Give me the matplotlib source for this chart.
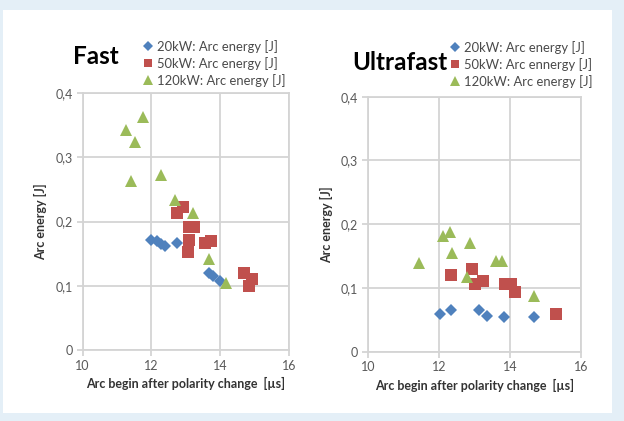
import matplotlib
matplotlib.use("Agg")
import matplotlib.pyplot as plt
from matplotlib.patches import Rectangle
from matplotlib.ticker import FuncFormatter

# ---- data: Fast ----
fast_20_x = [11.98, 12.17, 12.28, 12.38, 12.73, 13.66, 13.78, 13.99]
fast_20_y = [0.171, 0.170, 0.165, 0.162, 0.166, 0.120, 0.115, 0.107]
fast_50_x = [12.75, 12.92, 13.08, 13.24, 13.10, 13.07, 13.56, 13.73, 14.69, 14.91, 14.84]
fast_50_y = [0.214, 0.222, 0.191, 0.191, 0.171, 0.153, 0.167, 0.170, 0.120, 0.110, 0.099]
fast_120_x = [11.25, 11.76, 11.52, 11.40, 12.27, 12.68, 13.21, 13.67, 14.16]
fast_120_y = [0.343, 0.362, 0.324, 0.263, 0.272, 0.233, 0.213, 0.142, 0.104]

# ---- data: Ultrafast ----
ultra_20_x = [12.03, 12.34, 13.13, 13.34, 13.84, 14.68]
ultra_20_y = [0.059, 0.066, 0.066, 0.056, 0.055, 0.054]
ultra_50_x = [12.34, 12.94, 13.00, 13.25, 13.85, 14.03, 14.15, 15.29]
ultra_50_y = [0.120, 0.129, 0.106, 0.111, 0.106, 0.106, 0.094, 0.059]
ultra_120_x = [12.10, 12.31, 12.87, 12.36, 11.44, 13.61, 13.78, 12.78, 14.68]
ultra_120_y = [0.181, 0.188, 0.171, 0.155, 0.139, 0.143, 0.143, 0.117, 0.087]

titles = ["Fast", "Ultrafast"]
labels_fast = ["20kW: Arc energy [J]", "50kW: Arc energy [J]", "120kW: Arc energy [J]"]
labels_ultra = ["20kW: Arc energy [J]", "50kW: Arc ennergy [J]", "120kW: Arc energy [J]"]
x_label = "Arc begin after polarity change  [µs]"
y_label = "Arc energy [J]"
x_ticks = [10, 12, 14, 16]
y_ticks = [0, 0.1, 0.2, 0.3, 0.4]

C_BLUE = "#4F81BD"
C_RED = "#C0504D"
C_GREEN = "#9BBB59"

plt.rcParams['font.family'] = ['Lato', 'DejaVu Sans']

W, H = 624, 421
fig = plt.figure(figsize=(W / 100, H / 100), dpi=100)
fig.patch.set_facecolor("#e4eff7")
bg = Rectangle((3 / W, (H - 413) / H), (612 - 3) / W, (413 - 10) / H,
               transform=fig.transFigure, facecolor="white",
               edgecolor="none", zorder=-10)
fig.patches.append(bg)

def fmt(v, pos):
    if abs(v) < 1e-9:
        return "0"
    return ("%.1f" % v).replace(".", ",")

def make(ax_rect, series, labels, title, title_xy, leg_xy):
    ax = fig.add_axes(ax_rect)
    ax.set_zorder(1)
    ax.set_facecolor("none")
    ax.set_xlim(10, 16)
    ax.set_ylim(0, 0.4)
    ax.set_xticks(x_ticks)
    ax.set_yticks(y_ticks)
    ax.yaxis.set_major_formatter(FuncFormatter(fmt))
    ax.grid(True, color="#d4d4d4", linewidth=1.3)
    ax.set_axisbelow(True)
    for s in ax.spines.values():
        s.set_color("#d4d4d4")
        s.set_linewidth(1.3)
    ax.tick_params(axis="both", colors="#d4d4d4", length=4, width=1.3,
                   labelcolor="#595959", labelsize=9, pad=3)
    ax.set_xlabel(x_label, fontsize=9, fontweight="bold", color="#333333", labelpad=4)
    ax.set_ylabel(y_label, fontsize=9, fontweight="bold", color="#333333", labelpad=6)
    handles = []
    for (xs, ys, m, ms, c), lab in zip(series, labels):
        h, = ax.plot(xs, ys, linestyle="none", marker=m, markersize=ms, color=c,
                     markeredgewidth=0, label=lab, clip_on=False, zorder=3)
        handles.append(h)
    fig.text(title_xy[0] / W, 1 - title_xy[1] / H, title, fontsize=17.5, fontweight="bold",
             color="#000000", ha="left", va="center")
    leg = fig.legend(handles=handles, loc="upper left",
                     bbox_to_anchor=(leg_xy[0] / W, 1 - leg_xy[1] / H),
                     frameon=False, fontsize=9.4, handlelength=0.7, handletextpad=0.4,
                     labelspacing=0.3, borderpad=0, borderaxespad=0,
                     markerscale=0.75)
    for t in leg.get_texts():
        t.set_color("#4a4a4a")
    return ax

series_fast = [
    (fast_20_x, fast_20_y, "D", 6.2, C_BLUE),
    (fast_50_x, fast_50_y, "s", 8.0, C_RED),
    (fast_120_x, fast_120_y, "^", 8.8, C_GREEN),
]
series_ultra = [
    (ultra_20_x, ultra_20_y, "D", 6.2, C_BLUE),
    (ultra_50_x, ultra_50_y, "s", 8.0, C_RED),
    (ultra_120_x, ultra_120_y, "^", 8.8, C_GREEN),
]

make([82.7 / W, (H - 350) / H, (289 - 82.7) / W, (350 - 93) / H],
     series_fast, labels_fast, "Fast", (73, 57), (143, 40))
make([368 / W, (H - 351.7) / H, (581 - 368) / W, (351.7 - 96.7) / H],
     series_ultra, labels_ultra, "Ultrafast", (352, 62), (450, 41))

fig.savefig("out.png", dpi=100, facecolor=fig.get_facecolor())
